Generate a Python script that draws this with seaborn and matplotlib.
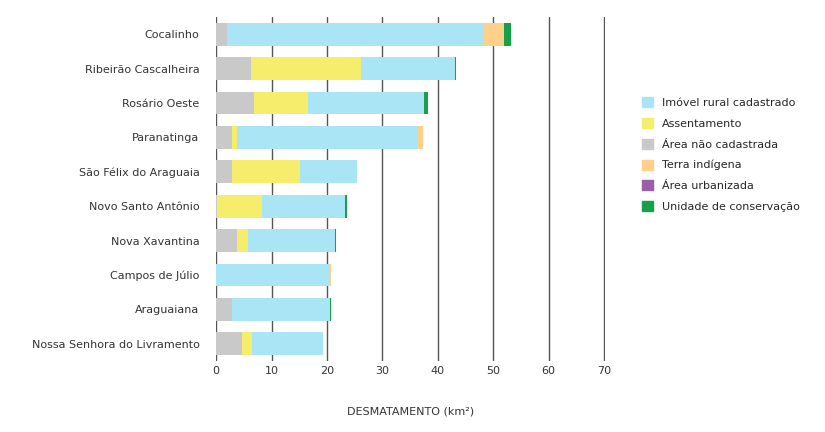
import matplotlib
matplotlib.use("Agg")
import matplotlib.pyplot as plt
import seaborn as sns
import numpy as np
import pandas as pd

municipios = ["Cocalinho", "Ribeirão Cascalheira", "Rosário Oeste", "Paranatinga",
              "São Félix do Araguaia", "Novo Santo Antônio", "Nova Xavantina",
              "Campos de Júlio", "Araguaiana", "Nossa Senhora do Livramento"]
nao_cadastrada = [1.9, 6.3, 6.9, 2.9, 2.9, 0.2, 3.8, 0.0, 2.9, 4.6]
assentamento = [0.0, 19.8, 9.6, 0.9, 12.2, 8.1, 2.0, 0.0, 0.0, 1.8]
imovel_rural = [46.2, 17.0, 21.1, 32.7, 10.3, 14.9, 15.7, 20.6, 17.6, 12.9]
terra_indigena = [3.9, 0.0, 0.0, 0.9, 0.0, 0.0, 0.0, 0.2, 0.0, 0.0]
area_urbanizada = [0.0] * 10
unidade_conservacao = [1.3, 0.2, 0.6, 0.0, 0.0, 0.4, 0.2, 0.0, 0.2, 0.0]

series = [
    ("Área não cadastrada", nao_cadastrada, "#c9c9c9"),
    ("Assentamento", assentamento, "#f5ed6b"),
    ("Imóvel rural cadastrado", imovel_rural, "#aae5f6"),
    ("Terra indígena", terra_indigena, "#fdd189"),
    ("Área urbanizada", area_urbanizada, "#9b5fa8"),
    ("Unidade de conservação", unidade_conservacao, "#17a04a"),
]
legend_order = ["Imóvel rural cadastrado", "Assentamento", "Área não cadastrada",
                "Terra indígena", "Área urbanizada", "Unidade de conservação"]

sns.set_style("white")
plt.rcParams['font.family'] = ['DejaVu Sans']
fig, ax = plt.subplots(figsize=(8.25, 4.32), dpi=100)
fig.subplots_adjust(left=0.262, right=0.733, top=0.96, bottom=0.165)

left = np.zeros(len(municipios))
handles = {}
for name, vals, color in series:
    df = pd.DataFrame({"m": municipios, "v": vals})
    sns.barplot(data=df, y="m", x="v", color=color, left=left, ax=ax, width=0.66,
                linewidth=0, zorder=3, saturation=1)
    handles[name] = plt.Rectangle((0, 0), 1, 1, color=color)
    left = left + np.array(vals)

ax.set_xlim(0, 70.15)
ax.set_xticks(range(0, 71, 10))
ax.xaxis.grid(True, color="#555555", linewidth=1)
for l in ax.get_xgridlines():
    l.set_zorder(1)
for s in ax.spines.values():
    s.set_visible(False)
ax.set_ylabel("")
ax.set_xlabel("DESMATAMENTO (km²)", fontsize=8, color="#333333", labelpad=22)
ax.tick_params(axis="both", labelsize=8, colors="#333333", length=0)
ax.tick_params(axis="y", pad=12)
ax.legend([handles[n] for n in legend_order], legend_order, loc="center left",
          bbox_to_anchor=(1.07, 0.6), frameon=False, fontsize=8, handlelength=1.0,
          handleheight=1.0, labelspacing=0.9)
fig.savefig("out.png", dpi=100)
